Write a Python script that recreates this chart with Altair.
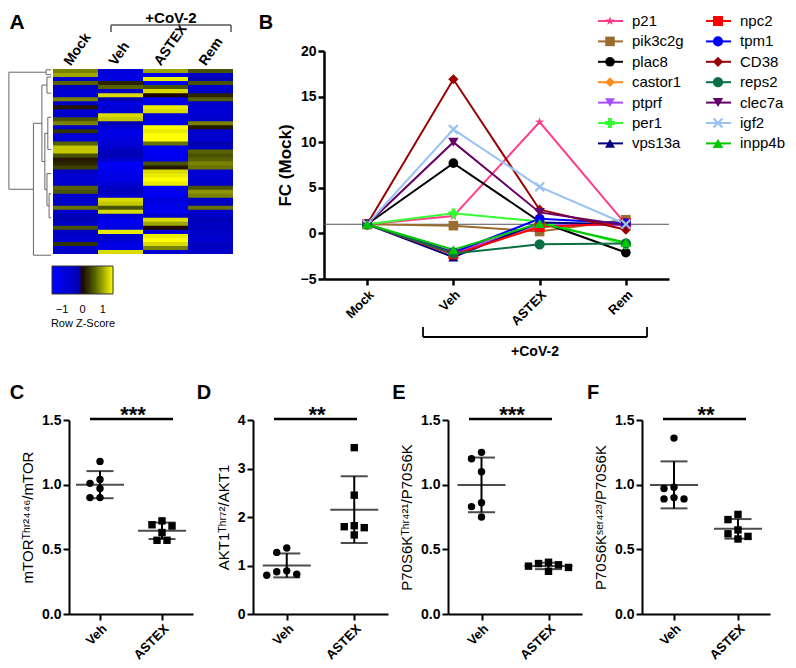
import json
import altair as alt
import pandas as pd

FONT = "Liberation Sans"
ONE = pd.DataFrame({"k": [0]})

# ---------------- Panel A : heatmap (row z-scores) ----------------
heat_columns = ["Mock", "Veh", "ASTEX", "Rem"]
heat_mock = [0.8, 1.0, -0.6, 0.6, -0.4, -0.7, -0.7, 0.8, -0.5, 0.1,
             -0.7, -0.6, 0.5, 0.8, -0.6, 0.3, -0.8, -0.8, 0.6, 1.2,
             1.2, 0.5, 0.1, 0.2, 0.4, -0.5, -0.7, -0.7, -0.7, 0.6,
             0.5, -0.6, -0.6, -0.5, 0.7, -0.6, -0.3, -0.2, -0.6, 0.5,
             -0.5, -0.6, -0.7, 0.3, -0.6, -0.6]
heat_veh = [-0.8, -1.0, -1.0, 0.2, 0.6, -0.5, 1.3, -0.1, -1.0, -0.8,
            -0.8, 1.3, 1.2, -0.2, -0.7, -1.1, -1.1, -0.9, -0.8, -0.6,
            -0.3, -0.2, -0.6, -1.3, -1.3, -1.2, -1.1, -1.1, -0.8, -0.5,
            -0.3, -0.7, 1.3, 1.2, 0.5, 1.3, -0.7, -1.2, -1.2, -1.0,
            1.4, -0.6, -0.7, -1.1, -1.1, 1.3]
heat_astex = [1.0, -1.2, 1.4, -1.2, 0.5, 1.3, 0.0, -1.3, -1.0, 1.4,
              1.3, -0.9, -1.0, -1.1, 1.5, 1.4, 1.5, 1.5, 0.7, -1.2,
              -1.3, -1.3, -1.2, 0.5, 0.1, 1.3, 1.4, 1.5, 1.4, -1.3,
              -1.3, -1.3, -0.9, -1.1, -1.2, -1.2, -0.6, 1.3, 1.0, 0.0,
              -0.8, 1.4, 1.5, 1.3, 0.8, -0.7]
heat_rem = [0.5, -0.6, -0.2, 0.5, -0.6, -0.6, 0.2, 0.6, -0.6, -0.8,
            -0.8, -0.7, -0.6, 0.8, 0.1, -0.7, -0.6, -0.7, -0.1, -0.5,
            0.6, 0.5, 0.6, 0.8, 0.7, -0.7, -0.8, -0.7, -0.6, 0.5,
            0.9, 0.8, -0.5, -0.4, 0.7, -0.6, -0.5, -0.2, -0.5, -0.4,
            -0.6, -0.6, -0.7, -0.4, -0.5, -0.6]

# dendrogram merges: height (0..1), rows joined, and child heights
dendro_height = [1.00, 0.12, 0.42, 0.22, 0.10, 0.15, 0.08, 0.10, 0.05]
dendro_top_row = [0.8, 0.2, 13.5, 4.0, 2.0, 16.0, 12.0, 26.0, 31.0]
dendro_bottom_row = [29.9, 1.4, 46.3, 23.0, 6.0, 30.0, 20.0, 34.0, 37.0]
dendro_top_child = [0.12, 0.0, 0.22, 0.10, 0.0, 0.08, 0.0, 0.0, 0.0]
dendro_bottom_child = [0.42, 0.0, 0.0, 0.15, 0.0, 0.10, 0.0, 0.05, 0.0]

# ---------------- Panel B : fold change vs mock ----------------
stages = ["Mock", "Veh", "ASTEX", "Rem"]
genes = ["p21", "pik3c2g", "plac8", "castor1", "ptprf", "per1", "vps13a",
         "npc2", "tpm1", "CD38", "reps2", "clec7a", "igf2", "inpp4b"]
fc_p21 = [1.0, 1.9, 12.2, 1.0]
fc_pik3c2g = [1.0, 0.85, 0.2, 1.5]
fc_plac8 = [1.0, 7.7, 1.3, -2.1]
fc_castor1 = [1.0, -2.0, 0.8, 1.0]
fc_ptprf = [1.0, -2.2, 1.0, 0.9]
fc_per1 = [1.0, 2.2, 1.3, -1.2]
fc_vps13a = [1.0, -2.6, 1.2, 1.0]
fc_npc2 = [1.0, -2.3, 0.7, 1.1]
fc_tpm1 = [1.0, -2.1, 1.6, 1.1]
fc_CD38 = [1.0, 16.9, 2.6, 0.4]
fc_reps2 = [1.0, -2.2, -1.2, -1.1]
fc_clec7a = [1.0, 10.0, 2.3, 0.9]
fc_igf2 = [1.0, 11.4, 5.1, 1.0]
fc_inpp4b = [1.0, -1.8, 1.1, -1.0]
fc_series = [fc_p21, fc_pik3c2g, fc_plac8, fc_castor1, fc_ptprf, fc_per1,
             fc_vps13a, fc_npc2, fc_tpm1, fc_CD38, fc_reps2, fc_clec7a,
             fc_igf2, fc_inpp4b]

gene_colors = ["#ff3d8b", "#9c6b2e", "#000000", "#ff8c1a", "#a64dff",
               "#33ff33", "#000080", "#ff0000", "#0000ff", "#990000",
               "#0b6e45", "#660066", "#99c2f2", "#00c800"]
STAR = ("M0,-1L0.235,-0.324L0.951,-0.309L0.38,0.124L0.588,0.809L0,0.4"
        "L-0.588,0.809L-0.38,0.124L-0.951,-0.309L-0.235,-0.324Z")
XSHAPE = ("M-1,-0.7L-0.7,-1L0,-0.3L0.7,-1L1,-0.7L0.3,0L1,0.7L0.7,1L0,0.3"
          "L-0.7,1L-1,0.7L-0.3,0Z")
gene_shapes = [STAR, "square", "circle", "diamond", "triangle-down", "cross",
               "triangle-up", "square", "circle", "diamond", "circle",
               "triangle-down", XSHAPE, "triangle-up"]
gene_sizes = [90, 110, 120, 40, 70, 70, 90, 70, 70, 100, 55, 110, 110, 60]

# ---------------- Panels C-F : western blot quantification ----------------
groups = ["Veh", "ASTEX"]
c_veh = [1.18, 1.04, 1.01, 0.97, 0.90, 0.90]
c_astex = [0.72, 0.69, 0.68, 0.63, 0.57, 0.57]
d_veh = [1.36, 1.27, 0.89, 0.87, 0.82, 0.80]
d_astex = [3.43, 2.45, 1.82, 1.80, 1.78, 1.63]
e_veh = [1.25, 1.20, 1.10, 0.86, 0.83, 0.75]
e_astex = [0.40, 0.39, 0.38, 0.37, 0.36, 0.33]
f_veh = [1.36, 0.98, 0.97, 0.90, 0.89, 0.89]
f_astex = [0.77, 0.73, 0.65, 0.62, 0.60, 0.58]


def letter(txt, x, y, size=20):
    return alt.Chart(ONE).mark_text(
        text=txt, fontSize=size, fontWeight="bold", font=FONT,
        align="center", baseline="middle", color="black"
    ).encode(x=alt.value(x), y=alt.value(y))


# ======== Panel A build ========
for lst in (heat_mock, heat_veh, heat_astex, heat_rem):
    assert len(lst) == 46
n_rows = len(heat_mock)
A_W, A_H = 195, 228
COL_PX = 45.0
ROW_PX = 185.0 / n_rows
y_top = -18.0 / ROW_PX
x_left = 16.0 / COL_PX

heat_recs = []
for ci, (col, vals) in enumerate(zip(heat_columns,
                                     [heat_mock, heat_veh, heat_astex, heat_rem])):
    for ri, v in enumerate(vals):
        heat_recs.append({"col": col, "c0": ci, "c1": ci + 1,
                          "r0": ri, "r1": ri + 1, "z": v})
heat_df = pd.DataFrame(heat_recs)

xA = alt.Scale(domain=[x_left, x_left + A_W / COL_PX], nice=False, zero=False)
yA = alt.Scale(domain=[y_top, y_top + A_H / ROW_PX], nice=False, zero=False,
               reverse=True)
z_scale = alt.Scale(domain=[-1.5, 0, 1.5],
                    range=["#0000ff", "#000000", "#ffff00"], clamp=True)

# cells overlap their lower neighbour by a hair to hide anti-alias seams
heat = alt.Chart(heat_df).transform_calculate(
    r1s=f"min(datum.r1 + 0.3, {n_rows})"
).mark_rect(strokeWidth=0).encode(
    x=alt.X("c0:Q", scale=xA, axis=None),
    x2="c1:Q",
    y=alt.Y("r0:Q", scale=yA, axis=None),
    y2="r1s:Q",
    color=alt.Color(
        "z:Q", scale=z_scale,
        legend=alt.Legend(
            orient="none", legendX=-18, legendY=215, direction="horizontal",
            gradientLength=61, gradientThickness=28, title="Row Z-Score",
            titleOrient="bottom", titleAnchor="middle", values=[-1, 0, 1],
            labelFontSize=11, titleFontSize=11, titleFontWeight="normal",
            labelOffset=10, titlePadding=3, gradientStrokeColor="#333333",
            gradientStrokeWidth=1, labelFont=FONT, titleFont=FONT,
            labelColor="black", titleColor="black"),
    ),
)

seg = []
for h, rt, rb, ht, hb in zip(dendro_height, dendro_top_row, dendro_bottom_row,
                             dendro_top_child, dendro_bottom_child):
    seg.append({"h1": h, "h2": h, "ra": rt, "rb": rb})
    seg.append({"h1": h, "h2": ht, "ra": rt, "rb": rt})
    seg.append({"h1": h, "h2": hb, "ra": rb, "rb": rb})
dendro = alt.Chart(pd.DataFrame(seg)).transform_calculate(
    xa="-0.04 - 0.94 * datum.h1", xb="-0.04 - 0.94 * datum.h2"
).mark_rule(color="#666666", strokeWidth=1).encode(
    x=alt.X("xa:Q", scale=xA, axis=None), x2="xb:Q",
    y=alt.Y("ra:Q", scale=yA, axis=None), y2="rb:Q")

col_lab_df = pd.DataFrame({"col": heat_columns,
                           "cx": [i + 0.32 for i in range(len(heat_columns))],
                           "cy": [-1.2] * len(heat_columns)})
col_labels = alt.Chart(col_lab_df).mark_text(
    angle=305, align="left", baseline="middle", fontSize=14,
    fontWeight="bold", font=FONT, color="black"
).encode(x=alt.X("cx:Q", scale=xA, axis=None),
         y=alt.Y("cy:Q", scale=yA, axis=None), text="col:N")

brA_h = alt.Chart(ONE).mark_rule(color="#555555", strokeWidth=1.5).encode(
    x=alt.value(42), x2=alt.value(162), y=alt.value(-26))
brA_l = alt.Chart(ONE).mark_rule(color="#555555", strokeWidth=1.5).encode(
    x=alt.value(42), y=alt.value(-26), y2=alt.value(-19))
brA_r = alt.Chart(ONE).mark_rule(color="#555555", strokeWidth=1.5).encode(
    x=alt.value(162), y=alt.value(-26), y2=alt.value(-19))
covA = alt.Chart(ONE).mark_text(
    text="+CoV-2", fontSize=15, fontWeight="bold", font=FONT,
    align="center", baseline="middle", color="black"
).encode(x=alt.value(102), y=alt.value(-33))

panelA = alt.layer(heat, dendro, col_labels, brA_h, brA_l, brA_r, covA,
                   letter("A", -52, -28, 21)).properties(width=A_W, height=A_H)

# ======== Panel B build ========
fc_recs = []
for g, vals in zip(genes, fc_series):
    for k, (s, v) in enumerate(zip(stages, vals)):
        fc_recs.append({"gene": g, "stage": s, "step": k, "fc": v})
fc_df = pd.DataFrame(fc_recs)

B_W, B_H = 345, 228
color_scale = alt.Scale(domain=genes, range=gene_colors)
shape_scale = alt.Scale(domain=genes, range=gene_shapes)
size_scale = alt.Scale(domain=genes, range=gene_sizes)
xB = alt.X("stage:N", sort=stages, scale=alt.Scale(type="point", padding=0.5),
           axis=alt.Axis(title=None, labelAngle=-45, labelFontSize=13,
                         labelFontWeight="bold", domainWidth=2.5, tickWidth=2.5,
                         tickSize=6, labelPadding=3, labelFont=FONT))
yB = alt.Y("fc:Q", scale=alt.Scale(domain=[-5, 20], nice=False, zero=False),
           axis=alt.Axis(values=[-5, 0, 5, 10, 15, 20], title="FC (Mock)",
                         titleFontSize=17, titleFontWeight="bold",
                         labelFontSize=14, labelFontWeight="bold",
                         domainWidth=2.5, tickWidth=2.5, tickSize=6,
                         labelPadding=2, titlePadding=6, labelFont=FONT,
                         titleFont=FONT))

one_line = alt.Chart(ONE).mark_rule(color="#555555", strokeWidth=1).encode(
    y=alt.datum(1))
lines = alt.Chart(fc_df).mark_line(strokeWidth=2).encode(
    x=xB, y=yB,
    color=alt.Color("gene:N", scale=color_scale, legend=None),
    order=alt.Order("step:Q"))
points = alt.Chart(fc_df).mark_point(filled=True, opacity=1).encode(
    x=xB, y=yB,
    color=alt.Color("gene:N", scale=color_scale, legend=None),
    shape=alt.Shape("gene:N", scale=shape_scale, legend=None),
    size=alt.Size("gene:N", scale=size_scale, legend=None))

leg_recs = []
for i, g in enumerate(genes):
    col, r = divmod(i, 7)
    sx = 286 + 108 * col
    sy = -30 + 20.4 * r
    leg_recs.append({"gene": g, "sx": sx, "sy": sy, "lx1": sx - 12,
                     "lx2": sx + 13, "tx": sx + 22})
leg_df = pd.DataFrame(leg_recs)
leg_line = alt.Chart(leg_df).mark_rule(strokeWidth=2).encode(
    x=alt.X("lx1:Q", scale=None), x2="lx2:Q",
    y=alt.Y("sy:Q", scale=None),
    color=alt.Color("gene:N", scale=color_scale, legend=None))
leg_pt = alt.Chart(leg_df).mark_point(filled=True, opacity=1).encode(
    x=alt.X("sx:Q", scale=None), y=alt.Y("sy:Q", scale=None),
    color=alt.Color("gene:N", scale=color_scale, legend=None),
    shape=alt.Shape("gene:N", scale=shape_scale, legend=None),
    size=alt.Size("gene:N", scale=size_scale, legend=None))
leg_txt = alt.Chart(leg_df).mark_text(
    align="left", baseline="middle", fontSize=15, font=FONT, color="black"
).encode(x=alt.X("tx:Q", scale=None), y=alt.Y("sy:Q", scale=None),
         text="gene:N")

brB_h = alt.Chart(ONE).mark_rule(color="black", strokeWidth=1.8).encode(
    x=alt.value(99), x2=alt.value(323), y=alt.value(286))
brB_l = alt.Chart(ONE).mark_rule(color="black", strokeWidth=1.8).encode(
    x=alt.value(99), y=alt.value(276), y2=alt.value(286))
brB_r = alt.Chart(ONE).mark_rule(color="black", strokeWidth=1.8).encode(
    x=alt.value(323), y=alt.value(276), y2=alt.value(286))
covB = alt.Chart(ONE).mark_text(
    text="+CoV-2", fontSize=14, fontWeight="bold", font=FONT,
    align="center", baseline="middle", color="black"
).encode(x=alt.value(211), y=alt.value(301))

panelB = alt.layer(one_line, lines, points, leg_line, leg_pt, leg_txt,
                   brB_h, brB_l, brB_r, covB,
                   letter("B", -58, -28, 20)).properties(width=B_W, height=B_H)


# ======== Panels C-F build ========
def swarm(values, px_per_unit, d=8.5):
    placed = []
    offs = [0.0] * len(values)
    order = sorted(range(len(values)), key=lambda i: -values[i])
    cands = [0, -5, 5, -10, 10, -15, 15, -20, 20, -25, 25]
    for i in order:
        yv = values[i] * px_per_unit
        for c in cands:
            if all(((c - px) ** 2 + (yv - py) ** 2) ** 0.5 >= d
                   for px, py in placed):
                placed.append((c, yv))
                offs[i] = c
                break
    return offs


def scatter_panel(veh, astex, ymax, yticks, yfmt, ytitle, letter_txt, stars,
                  width, height=194):
    px_per_unit = height / ymax
    half = width / 2.0
    recs = []
    for gi, (g, vals) in enumerate(zip(groups, [veh, astex])):
        offs = swarm(vals, px_per_unit)
        for v, o in zip(vals, offs):
            recs.append({"group": g, "gi": gi, "value": v,
                         "xj": gi + o / half})
    df = pd.DataFrame(recs)
    xs = alt.Scale(domain=[-0.5, 1.5], nice=False, zero=False)
    xax = alt.Axis(values=[0, 1],
                   labelExpr=f"{json.dumps(groups)}[datum.value]",
                   title=None, labelAngle=-45, labelFontSize=13,
                   labelFontWeight="bold", domainWidth=2, tickWidth=2,
                   tickSize=6, labelPadding=2, grid=False, labelFont=FONT)
    ys = alt.Scale(domain=[0, ymax], nice=False, zero=True)
    yax = alt.Axis(values=yticks, format=yfmt, title=ytitle,
                   titleFontSize=15, titleFontWeight="normal",
                   labelFontSize=14, labelFontWeight="bold", domainWidth=2,
                   tickWidth=2, tickSize=6, labelPadding=2, titlePadding=6,
                   grid=False, labelFont=FONT, titleFont=FONT)
    base = alt.Chart(df)
    pts = base.mark_point(filled=True, opacity=1, size=55, color="black").encode(
        x=alt.X("xj:Q", scale=xs, axis=xax),
        y=alt.Y("value:Q", scale=ys, axis=yax),
        shape=alt.Shape("group:N",
                        scale=alt.Scale(domain=groups,
                                        range=["circle", "square"]),
                        legend=None))
    stats = base.transform_aggregate(
        m="mean(value)", s="stdev(value)", groupby=["gi"]
    ).transform_calculate(lo="datum.m - datum.s", hi="datum.m + datum.s")
    mean_tick = stats.mark_tick(orient="horizontal", size=48, thickness=2,
                                color="black").encode(
        x=alt.X("gi:Q", scale=xs, axis=xax),
        y=alt.Y("m:Q", scale=ys, axis=yax))
    sd_rule = stats.mark_rule(strokeWidth=2, color="black").encode(
        x=alt.X("gi:Q", scale=xs, axis=xax),
        y=alt.Y("lo:Q", scale=ys, axis=yax), y2="hi:Q")
    cap_lo = stats.mark_tick(orient="horizontal", size=27, thickness=2,
                             color="black").encode(
        x=alt.X("gi:Q", scale=xs, axis=xax),
        y=alt.Y("lo:Q", scale=ys, axis=yax))
    cap_hi = stats.mark_tick(orient="horizontal", size=27, thickness=2,
                             color="black").encode(
        x=alt.X("gi:Q", scale=xs, axis=xax),
        y=alt.Y("hi:Q", scale=ys, axis=yax))
    sig = alt.Chart(ONE).mark_rule(strokeWidth=2.5, color="black").encode(
        x=alt.value(21), x2=alt.value(104), y=alt.value(-1))
    star_txt = alt.Chart(ONE).mark_text(
        text=stars, fontSize=22, fontWeight="bold", font=FONT,
        baseline="alphabetic", align="center", color="black"
    ).encode(x=alt.value(64), y=alt.value(2))
    lx = -52 if letter_txt == "C" else -49
    return alt.layer(sd_rule, cap_lo, cap_hi, mean_tick, pts, sig, star_txt,
                     letter(letter_txt, lx, -27, 20)).properties(
        width=width, height=height)


panelC = scatter_panel(c_veh, c_astex, 1.5, [0, 0.5, 1.0, 1.5], ".1f",
                       "mTORᵀʰʳ²⁴⁴⁶/mTOR", "C", "***", 124)
panelD = scatter_panel(d_veh, d_astex, 4, [0, 1, 2, 3, 4], "d",
                       "AKT1ᵀʰʳ⁷²/AKT1", "D", "**", 135)
panelE = scatter_panel(e_veh, e_astex, 1.5, [0, 0.5, 1.0, 1.5], ".1f",
                       "P70S6Kᵀʰʳ⁴²¹/P70S6K", "E", "***", 134)
panelF = scatter_panel(f_veh, f_astex, 1.5, [0, 0.5, 1.0, 1.5], ".1f",
                       "P70S6Kˢᵉʳ⁴²³/P70S6K", "F", "**", 128)

top = alt.hconcat(panelA, panelB, spacing=60, bounds="flush")
bottom = alt.hconcat(panelC, panelD, panelE, panelF, spacing=60,
                     bounds="flush")

chart = alt.vconcat(top, bottom, spacing=24).resolve_scale(
    color="independent", shape="independent", size="independent"
).properties(
    padding={"left": 0, "top": 3, "right": 0, "bottom": 0}
).configure(font=FONT).configure_view(
    stroke=None
).configure_axis(
    domainColor="black", tickColor="black", labelColor="black",
    titleColor="black", grid=False)

chart.save("out.html", embed_options={"renderer": "svg", "actions": False})
